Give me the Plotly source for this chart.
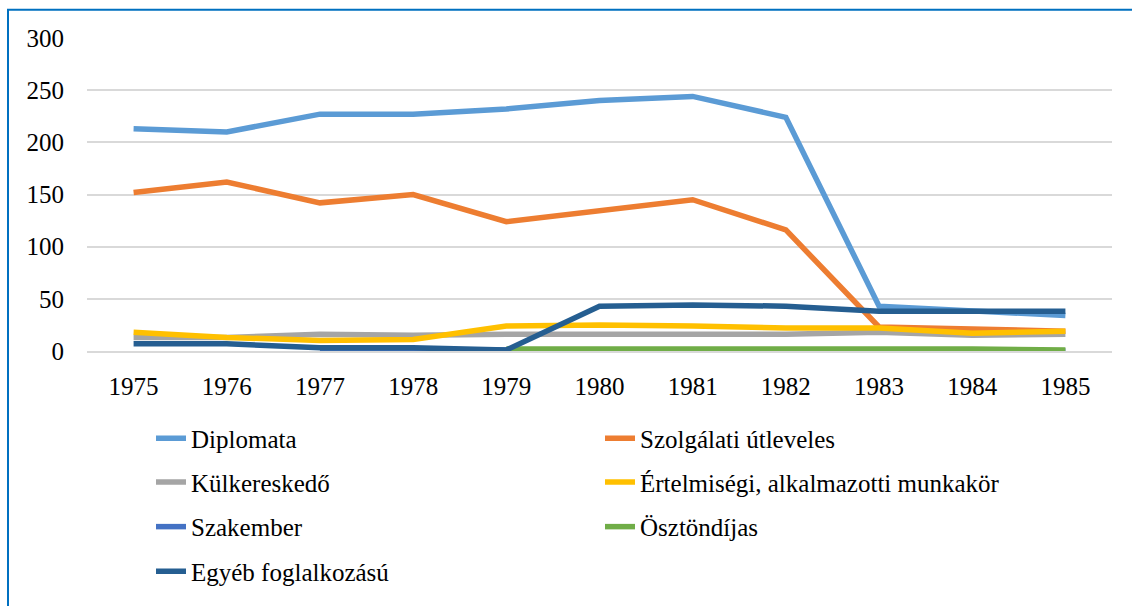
import plotly.graph_objects as go

# Passports issued per category, 1975-1985
years = ["1975", "1976", "1977", "1978", "1979", "1980", "1981", "1982", "1983", "1984", "1985"]

diplomata = [213, 210, 227, 227, 232, 240, 244, 224, 43, 39, 34]
szolgalati = [152, 162, 142, 150, 124, 134, 145, 116, 23, 21, 19]
kulkereskedo = [13, 13, 16, 15, 16, 16, 15, 16, 18, 15, 16]
ertelmisegi = [18, 13, 10, 11, 24, 25, 24, 22, 22, 17, 19]
szakember = [None, None, 1, 1, 1, 1, 1, 2, 1, 1, 0]
osztondijas = [None, None, None, None, 2, 2, 3, 3, 2, 2, 1]
egyeb = [7, 7, 3, 3, 1, 43, 44, 43, 38, 38, 38]

y_ticks = [0, 50, 100, 150, 200, 250, 300]

series = [
    ("Diplomata", diplomata, "#5B9BD5", "legend"),
    ("Szolgálati útleveles", szolgalati, "#ED7D31", "legend"),
    ("Külkereskedő", kulkereskedo, "#A5A5A5", "legend2"),
    ("Értelmiségi, alkalmazotti munkakör", ertelmisegi, "#FFC000", "legend2"),
    ("Szakember", szakember, "#4472C4", "legend3"),
    ("Ösztöndíjas", osztondijas, "#70AD47", "legend3"),
    ("Egyéb foglalkozású", egyeb, "#255E91", "legend4"),
]

FONT = "Liberation Serif, Times New Roman, serif"

fig = go.Figure()
for name, vals, color, leg in series:
    fig.add_trace(go.Scatter(
        x=years, y=vals, name=name, mode="lines",
        line=dict(color=color, width=5.5),
        legend=leg,
    ))

# plot area geometry in pixels (for placing legend rows and the outer frame)
W, H = 1132, 606
L, R, T, B = 87, 20, 38, 253
pw, ph = W - L - R, H - T - B


def px_x(x):
    return (x - L) / pw


def px_y(y):
    return (H - B - y) / ph


legend_common = dict(
    orientation="h", entrywidth=404, entrywidthmode="pixels",
    xanchor="left", yanchor="middle", bgcolor="rgba(0,0,0,0)",
    font=dict(family=FONT, size=25, color="#000000"),
    itemclick=False, itemdoubleclick=False,
)
rows_y = [441, 485, 530, 575]
legend_x = px_x(151)

fig.update_layout(
    width=W, height=H,
    margin=dict(l=L, r=R, t=T, b=B, pad=0),
    paper_bgcolor="#FFFFFF", plot_bgcolor="#FFFFFF",
    font=dict(family=FONT, size=25, color="#000000"),
    showlegend=True,
    legend=dict(x=legend_x, y=px_y(rows_y[0]), **legend_common),
    legend2=dict(x=legend_x, y=px_y(rows_y[1]), **legend_common),
    legend3=dict(x=legend_x, y=px_y(rows_y[2]), **legend_common),
    legend4=dict(x=legend_x, y=px_y(rows_y[3]), **legend_common),
    xaxis=dict(
        type="category", range=[-0.5, 10.5],
        showgrid=False, showline=True, linecolor="#D9D9D9", linewidth=1.5,
        ticks="", ticklabelstandoff=12,
        tickfont=dict(family=FONT, size=25, color="#000000"),
        fixedrange=True,
    ),
    yaxis=dict(
        range=[0, 300], tickvals=y_ticks,
        showgrid=True, gridcolor="#D9D9D9", gridwidth=1.5,
        zeroline=False, showline=False,
        ticks="", ticklabelstandoff=22,
        tickfont=dict(family=FONT, size=25, color="#000000"),
        fixedrange=True,
    ),
    shapes=[dict(
        type="rect", xref="paper", yref="paper",
        x0=px_x(8), x1=px_x(W + 10), y0=px_y(H + 10), y1=px_y(9.5),
        line=dict(color="#0070C0", width=2), fillcolor="rgba(0,0,0,0)",
        layer="above",
    )],
)

fig.write_html("out.html", include_plotlyjs=True, config={"displayModeBar": False})
